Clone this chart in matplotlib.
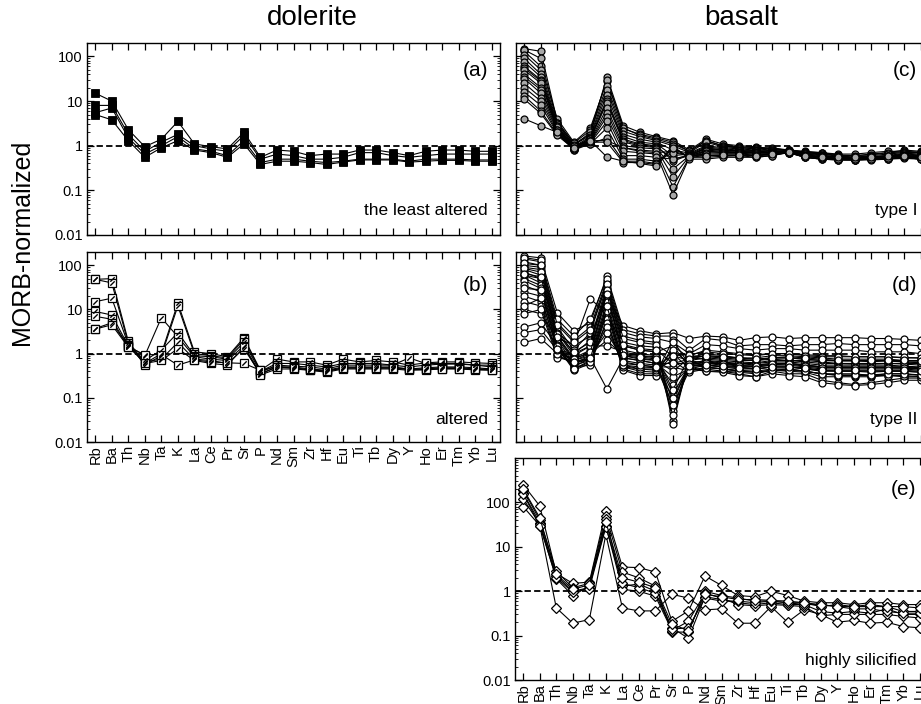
import matplotlib
matplotlib.use("Agg")
import matplotlib.pyplot as plt
from matplotlib.ticker import LogLocator, FixedLocator, NullFormatter, FixedFormatter
import numpy as np

plt.rcParams['font.family'] = ['Liberation Sans', 'DejaVu Sans']

elements = ["Rb", "Ba", "Th", "Nb", "Ta", "K", "La", "Ce", "Pr", "Sr", "P", "Nd", "Sm",
            "Zr", "Hf", "Eu", "Ti", "Tb", "Dy", "Y", "Ho", "Er", "Tm", "Yb", "Lu"]

# (a) dolerite, least altered
dol_least = [
    [15, 10, 2.3, 0.95, 1.4, 3.5, 1.1, 0.95, 0.85, 2.0, 0.55, 0.8, 0.75, 0.6, 0.65, 0.65, 0.8, 0.8, 0.7, 0.6, 0.75, 0.8, 0.8, 0.75, 0.75],
    [8, 8, 1.8, 0.75, 1.2, 1.8, 1.0, 0.85, 0.75, 1.7, 0.5, 0.65, 0.6, 0.5, 0.5, 0.55, 0.7, 0.7, 0.6, 0.55, 0.6, 0.65, 0.65, 0.65, 0.65],
    [5.5, 7, 1.5, 0.65, 1.0, 1.6, 0.85, 0.75, 0.6, 1.3, 0.42, 0.5, 0.5, 0.45, 0.42, 0.45, 0.5, 0.5, 0.5, 0.45, 0.5, 0.5, 0.5, 0.48, 0.48],
    [5, 3.8, 1.3, 0.55, 0.9, 1.3, 0.8, 0.7, 0.55, 1.1, 0.38, 0.45, 0.45, 0.42, 0.38, 0.43, 0.48, 0.48, 0.48, 0.43, 0.45, 0.47, 0.47, 0.45, 0.45],
]

# (b) dolerite, altered
dol_altered = [
    [48, 50, 1.9, 0.6, 1.0, 14, 1.1, 1.0, 0.85, 2.3, 0.42, 0.75, 0.65, 0.65, 0.55, 0.75, 0.65, 0.7, 0.65, 0.55, 0.62, 0.65, 0.65, 0.62, 0.6],
    [48, 40, 1.7, 0.55, 0.9, 12, 1.0, 0.9, 0.8, 2.1, 0.4, 0.6, 0.6, 0.55, 0.5, 0.6, 0.6, 0.6, 0.55, 0.5, 0.55, 0.58, 0.58, 0.55, 0.55],
    [15, 18, 1.6, 0.7, 1.2, 3.0, 0.9, 0.85, 0.75, 1.8, 0.38, 0.55, 0.52, 0.5, 0.45, 0.55, 0.55, 0.55, 0.55, 0.8, 0.6, 0.6, 0.6, 0.55, 0.5],
    [9, 7.5, 1.5, 0.9, 6.5, 2.4, 0.85, 0.75, 0.7, 1.5, 0.35, 0.5, 0.5, 0.45, 0.42, 0.5, 0.5, 0.5, 0.5, 0.45, 0.48, 0.5, 0.5, 0.48, 0.45],
    [7, 6, 1.4, 0.65, 0.75, 1.8, 0.75, 0.7, 0.6, 1.3, 0.35, 0.5, 0.48, 0.42, 0.4, 0.48, 0.48, 0.48, 0.48, 0.45, 0.45, 0.48, 0.48, 0.45, 0.45],
    [3.7, 5, 1.5, 0.6, 0.7, 1.3, 0.7, 0.6, 0.55, 1.4, 0.33, 0.45, 0.45, 0.42, 0.38, 0.45, 0.45, 0.45, 0.45, 0.42, 0.43, 0.45, 0.45, 0.43, 0.42],
    [3.6, 4.5, 1.4, 0.95, 0.95, 0.55, 0.72, 0.65, 0.62, 0.6, 0.42, 0.5, 0.47, 0.44, 0.4, 0.47, 0.47, 0.47, 0.47, 0.44, 0.44, 0.46, 0.46, 0.44, 0.43],
]

# (c) basalt type I
bas_type1 = [
    [150, 130, 3.5, 1.1, 1.8, 35, 2.8, 2.0, 1.6, 1.3, 0.8, 1.4, 1.1, 1.0, 0.95, 0.85, 0.8, 0.7, 0.65, 0.6, 0.6, 0.65, 0.7, 0.8, 0.75],
    [130, 60, 4.0, 1.2, 2.5, 28, 2.4, 1.8, 1.5, 1.2, 0.75, 1.3, 1.0, 0.95, 0.9, 0.9, 0.8, 0.75, 0.7, 0.65, 0.65, 0.7, 0.75, 0.75, 0.72],
    [140, 90, 3.3, 1.15, 2.2, 30, 2.5, 1.7, 1.4, 1.1, 0.75, 1.3, 1.0, 0.9, 0.88, 0.85, 0.8, 0.72, 0.7, 0.62, 0.6, 0.62, 0.7, 0.72, 0.7],
    [110, 50, 3.2, 1.0, 2.0, 22, 2.1, 1.6, 1.3, 1.0, 0.7, 1.2, 0.95, 0.9, 0.85, 0.8, 0.78, 0.72, 0.68, 0.6, 0.55, 0.6, 0.65, 0.7, 0.7],
    [90, 40, 3.0, 1.05, 1.7, 18, 1.8, 1.4, 1.2, 0.8, 0.68, 1.0, 0.9, 0.85, 0.8, 0.78, 0.75, 0.7, 0.65, 0.58, 0.55, 0.58, 0.6, 0.68, 0.65],
    [75, 35, 2.8, 0.95, 1.6, 14, 1.6, 1.2, 1.1, 0.6, 0.65, 0.95, 0.85, 0.8, 0.78, 0.75, 0.75, 0.68, 0.62, 0.55, 0.55, 0.55, 0.6, 0.65, 0.62],
    [60, 30, 2.6, 0.9, 1.5, 11, 1.4, 1.1, 1.0, 0.45, 0.62, 0.9, 0.8, 0.78, 0.75, 0.72, 0.75, 0.65, 0.6, 0.55, 0.52, 0.55, 0.58, 0.62, 0.6],
    [55, 28, 2.7, 0.92, 1.45, 10, 1.3, 1.05, 0.95, 0.5, 0.62, 0.88, 0.8, 0.76, 0.75, 0.72, 0.73, 0.65, 0.6, 0.55, 0.53, 0.55, 0.58, 0.6, 0.58],
    [50, 25, 2.5, 0.85, 1.4, 9, 1.2, 1.0, 0.9, 0.3, 0.6, 0.85, 0.78, 0.75, 0.72, 0.7, 0.72, 0.62, 0.58, 0.52, 0.5, 0.52, 0.55, 0.6, 0.58],
    [40, 20, 2.4, 0.9, 1.3, 7, 1.0, 0.9, 0.85, 0.2, 0.58, 0.8, 0.75, 0.72, 0.7, 0.7, 0.72, 0.6, 0.55, 0.5, 0.5, 0.5, 0.55, 0.58, 0.55],
    [35, 18, 2.6, 1.0, 1.3, 1.3, 0.9, 0.75, 0.7, 0.75, 0.6, 0.75, 0.72, 0.7, 0.7, 0.68, 0.72, 0.6, 0.55, 0.52, 0.52, 0.55, 0.55, 0.6, 0.55],
    [32, 15, 2.3, 0.85, 1.25, 5.5, 0.9, 0.8, 0.75, 0.12, 0.55, 0.75, 0.7, 0.7, 0.68, 0.68, 0.7, 0.6, 0.55, 0.5, 0.5, 0.5, 0.52, 0.55, 0.55],
    [25, 12, 2.2, 0.8, 1.2, 4.5, 0.75, 0.7, 0.65, 0.08, 0.55, 0.7, 0.68, 0.68, 0.65, 0.65, 0.7, 0.58, 0.52, 0.48, 0.48, 0.5, 0.52, 0.55, 0.52],
    [20, 10, 2.0, 0.85, 1.15, 3.5, 0.6, 0.6, 0.55, 0.5, 0.6, 0.65, 0.65, 0.65, 0.62, 0.65, 0.7, 0.55, 0.5, 0.5, 0.48, 0.5, 0.5, 0.55, 0.5],
    [16, 8, 1.9, 0.8, 1.1, 2.5, 0.5, 0.5, 0.45, 0.7, 0.6, 0.6, 0.6, 0.6, 0.6, 0.62, 0.7, 0.55, 0.5, 0.48, 0.48, 0.5, 0.5, 0.55, 0.5],
    [13, 6, 1.8, 0.9, 1.1, 1.5, 0.45, 0.45, 0.4, 0.9, 0.55, 0.55, 0.58, 0.6, 0.55, 0.6, 0.7, 0.55, 0.5, 0.48, 0.48, 0.48, 0.5, 0.52, 0.5],
    [11, 5.3, 1.7, 0.85, 1.2, 1.2, 0.42, 0.42, 0.38, 1.0, 0.5, 0.5, 0.55, 0.55, 0.55, 0.6, 0.72, 0.55, 0.52, 0.5, 0.5, 0.5, 0.52, 0.55, 0.5],
    [4, 2.8, 2.0, 0.9, 1.3, 0.56, 0.45, 0.4, 0.35, 0.9, 0.55, 0.6, 0.62, 0.62, 0.6, 0.65, 0.72, 0.6, 0.55, 0.55, 0.55, 0.55, 0.6, 0.6, 0.55],
]

# (d) basalt type II
bas_type2 = [
    [60, 50, 3.0, 1.5, 2.5, 20, 4.3, 3.3, 2.8, 3.0, 2.2, 2.5, 2.4, 2.0, 2.3, 2.4, 2.2, 2.3, 2.3, 2.3, 2.3, 2.2, 2.2, 2.1, 2.0],
    [163, 147, 8.4, 3.3, 5.0, 57, 3.5, 2.8, 2.5, 2.5, 1.2, 2.2, 2.0, 1.5, 1.6, 1.6, 1.5, 1.6, 1.6, 1.7, 1.6, 1.6, 1.6, 1.6, 1.5],
    [4, 5, 1.5, 0.6, 0.8, 0.16, 0.8, 0.7, 0.6, 0.6, 0.6, 0.7, 0.6, 0.6, 0.55, 0.6, 0.6, 0.55, 0.5, 0.5, 0.5, 0.5, 0.5, 0.5, 0.45],
    [10, 8, 2.2, 1.6, 17.5, 8, 1.5, 1.2, 1.1, 1.5, 0.8, 1.0, 0.9, 0.8, 0.8, 0.9, 0.9, 0.85, 0.8, 0.75, 0.75, 0.75, 0.75, 0.7, 0.7],
    [140, 120, 5.0, 2.0, 4.0, 45, 2.5, 2.0, 1.8, 0.03, 0.9, 1.2, 1.1, 1.0, 0.95, 1.0, 1.0, 0.95, 0.9, 0.9, 0.85, 0.85, 0.85, 0.8, 0.8],
    [120, 100, 4.0, 1.2, 3.0, 40, 1.8, 1.5, 1.4, 0.026, 0.8, 0.9, 0.85, 0.8, 0.75, 0.8, 0.8, 0.75, 0.7, 0.7, 0.7, 0.65, 0.7, 0.65, 0.65],
    [100, 90, 3.5, 1.0, 2.0, 35, 1.5, 1.2, 1.1, 0.05, 0.7, 0.8, 0.75, 0.7, 0.7, 0.75, 0.7, 0.7, 0.65, 0.6, 0.6, 0.6, 0.6, 0.6, 0.6],
    [90, 80, 3.0, 0.9, 1.5, 30, 1.2, 1.0, 0.9, 0.08, 0.6, 0.7, 0.65, 0.6, 0.6, 0.65, 0.65, 0.6, 0.55, 0.55, 0.55, 0.55, 0.55, 0.52, 0.5],
    [80, 60, 2.5, 0.8, 1.2, 25, 1.0, 0.9, 0.8, 0.12, 0.55, 0.65, 0.6, 0.55, 0.55, 0.6, 0.6, 0.55, 0.5, 0.5, 0.5, 0.5, 0.5, 0.5, 0.48],
    [70, 50, 2.2, 0.7, 1.0, 20, 0.9, 0.8, 0.7, 0.2, 0.5, 0.6, 0.55, 0.5, 0.5, 0.55, 0.55, 0.5, 0.45, 0.45, 0.45, 0.45, 0.45, 0.45, 0.42],
    [60, 40, 2.0, 0.6, 0.9, 15, 0.8, 0.7, 0.6, 0.3, 0.45, 0.55, 0.5, 0.45, 0.45, 0.5, 0.5, 0.45, 0.4, 0.4, 0.4, 0.38, 0.4, 0.4, 0.38],
    [50, 35, 1.8, 0.5, 0.8, 12, 0.6, 0.55, 0.5, 0.5, 0.4, 0.5, 0.45, 0.42, 0.4, 0.45, 0.45, 0.4, 0.35, 0.35, 0.35, 0.32, 0.35, 0.35, 0.32],
    [45, 30, 1.6, 0.45, 0.7, 10, 0.5, 0.45, 0.45, 0.7, 0.38, 0.45, 0.4, 0.38, 0.35, 0.42, 0.4, 0.38, 0.3, 0.3, 0.3, 0.3, 0.32, 0.3, 0.3],
    [35, 25, 1.4, 0.42, 0.6, 8, 0.45, 0.35, 0.35, 1.0, 0.45, 0.4, 0.4, 0.35, 0.3, 0.4, 0.35, 0.35, 0.25, 0.22, 0.2, 0.22, 0.25, 0.28, 0.28],
    [25, 20, 1.2, 0.5, 0.55, 6, 0.42, 0.32, 0.32, 1.5, 0.5, 0.4, 0.38, 0.32, 0.3, 0.35, 0.32, 0.3, 0.22, 0.2, 0.19, 0.2, 0.22, 0.25, 0.25],
    [20, 15, 1.0, 0.55, 0.7, 5, 0.5, 0.4, 0.38, 2.0, 0.55, 0.5, 0.45, 0.4, 0.38, 0.42, 0.45, 0.4, 0.35, 0.32, 0.32, 0.32, 0.32, 0.32, 0.3],
    [15, 12, 0.9, 0.6, 0.75, 4, 0.55, 0.45, 0.42, 1.2, 0.6, 0.55, 0.5, 0.5, 0.45, 0.5, 0.5, 0.45, 0.42, 0.4, 0.4, 0.4, 0.4, 0.4, 0.38],
    [8, 10, 0.8, 0.7, 0.9, 3, 0.7, 0.6, 0.55, 0.9, 0.7, 0.6, 0.6, 0.55, 0.5, 0.55, 0.6, 0.55, 0.5, 0.48, 0.48, 0.48, 0.48, 0.48, 0.45],
    [1.8, 2.2, 1.0, 0.8, 1.0, 2.0, 0.9, 0.75, 0.7, 0.4, 0.8, 0.75, 0.7, 0.65, 0.62, 0.7, 0.7, 0.65, 0.6, 0.6, 0.58, 0.58, 0.6, 0.58, 0.55],
    [3, 3.5, 1.2, 1.0, 1.5, 1.5, 1.1, 0.9, 0.85, 0.15, 0.9, 0.85, 0.8, 0.75, 0.7, 0.8, 0.8, 0.75, 0.7, 0.68, 0.68, 0.68, 0.68, 0.65, 0.62],
    [150, 130, 6.0, 2.5, 6.0, 50, 3.0, 2.4, 2.2, 1.8, 1.0, 1.6, 1.5, 1.3, 1.2, 1.3, 1.3, 1.2, 1.2, 1.2, 1.2, 1.1, 1.1, 1.1, 1.0],
    [110, 100, 4.5, 1.8, 3.5, 38, 2.2, 1.8, 1.6, 0.9, 0.95, 1.1, 1.0, 0.95, 0.9, 1.0, 1.0, 0.9, 0.85, 0.85, 0.85, 0.85, 0.85, 0.82, 0.8],
    [85, 70, 2.8, 1.1, 1.8, 28, 1.6, 1.3, 1.2, 0.6, 0.75, 0.9, 0.85, 0.8, 0.75, 0.8, 0.85, 0.8, 0.75, 0.7, 0.7, 0.7, 0.7, 0.7, 0.68],
    [65, 55, 2.4, 0.75, 1.1, 22, 0.95, 0.85, 0.75, 0.04, 0.58, 0.62, 0.58, 0.52, 0.52, 0.58, 0.58, 0.52, 0.48, 0.48, 0.48, 0.48, 0.48, 0.47, 0.45],
    [30, 28, 1.5, 0.45, 0.65, 9, 0.55, 0.5, 0.48, 0.07, 0.42, 0.48, 0.45, 0.4, 0.38, 0.42, 0.42, 0.4, 0.35, 0.33, 0.33, 0.33, 0.35, 0.35, 0.33],
    [12, 18, 1.3, 0.65, 0.8, 12, 0.65, 0.55, 0.5, 0.1, 0.52, 0.55, 0.52, 0.48, 0.45, 0.5, 0.5, 0.48, 0.42, 0.42, 0.42, 0.42, 0.42, 0.42, 0.4],
]

# (e) basalt highly silicified
bas_silic = [
    [80, 30, 0.42, 0.19, 0.23, 19, 0.42, 0.36, 0.36, 0.85, 0.7, 0.38, 0.4, 0.19, 0.19, 0.45, 0.2, 0.38, 0.3, 0.2, 0.22, 0.19, 0.2, 0.16, 0.15],
    [250, 83, 2.5, 1.5, 1.6, 64, 3.5, 3.4, 2.7, 0.21, 0.36, 2.2, 1.35, 0.8, 0.75, 1.0, 0.8, 0.6, 0.55, 0.55, 0.5, 0.55, 0.55, 0.5, 0.5],
    [190, 40, 2.8, 1.2, 1.5, 50, 2.7, 2.0, 1.3, 0.12, 0.12, 1.0, 0.8, 0.7, 0.6, 0.6, 0.55, 0.55, 0.45, 0.5, 0.45, 0.45, 0.45, 0.35, 0.35],
    [160, 35, 2.2, 1.0, 1.2, 42, 1.3, 1.45, 1.0, 0.15, 0.087, 0.75, 0.65, 0.55, 0.5, 0.55, 0.5, 0.5, 0.35, 0.32, 0.35, 0.32, 0.4, 0.3, 0.3],
    [120, 32, 1.9, 0.8, 1.3, 30, 1.1, 1.0, 0.77, 0.13, 0.21, 0.9, 0.7, 0.5, 0.47, 0.5, 0.48, 0.45, 0.28, 0.3, 0.3, 0.3, 0.3, 0.27, 0.25],
    [155, 30, 2.0, 0.95, 1.15, 28, 1.5, 1.2, 0.9, 0.14, 0.15, 0.7, 0.6, 0.6, 0.55, 0.6, 0.55, 0.5, 0.5, 0.45, 0.4, 0.4, 0.35, 0.32, 0.32],
    [200, 45, 2.4, 1.1, 1.4, 36, 2.0, 1.6, 1.2, 0.18, 0.13, 0.85, 0.75, 0.65, 0.65, 0.62, 0.6, 0.55, 0.5, 0.45, 0.45, 0.5, 0.45, 0.45, 0.42],
]

W, H = 921, 704
fig = plt.figure(figsize=(W / 100, H / 100), dpi=100)


def box(left, top, right, bottom):
    return [left / W, 1 - bottom / H, (right - left) / W, (bottom - top) / H]


ax_a = fig.add_axes(box(87, 43, 500, 235))
ax_b = fig.add_axes(box(87, 252, 500, 442))
ax_c = fig.add_axes(box(516, 43, 929, 235))
ax_d = fig.add_axes(box(516, 252, 929, 442))
ax_e = fig.add_axes(box(515, 458, 928, 680))

x = np.arange(len(elements))
FS_TICK = 10.5


def style_axes(ax, ytop, show_xlabels, show_ylabels):
    ax.set_yscale('log')
    ax.set_xlim(-0.5, len(elements) - 0.5)
    ax.set_ylim(0.01, ytop)
    ax.axhline(1, color='k', lw=1.3, ls=(0, (3.5, 1.8)), zorder=1)
    ax.xaxis.set_major_locator(FixedLocator(x))
    if show_xlabels:
        ax.set_xticklabels(elements, rotation=90, fontsize=FS_TICK)
    else:
        ax.set_xticklabels([])
    majors = [0.01, 0.1, 1, 10, 100]
    ax.yaxis.set_major_locator(FixedLocator(majors))
    if show_ylabels:
        ax.yaxis.set_major_formatter(FixedFormatter(["0.01", "0.1", "1", "10", "100"]))
    else:
        ax.yaxis.set_major_formatter(NullFormatter())
    ax.yaxis.set_minor_locator(LogLocator(base=10, subs=np.arange(2, 10), numticks=20))
    ax.yaxis.set_minor_formatter(NullFormatter())
    ax.tick_params(axis='both', which='major', direction='in', length=5, width=0.9,
                   top=True, right=True, labelsize=FS_TICK, pad=3)
    ax.tick_params(axis='y', which='minor', direction='in', length=2.5, width=0.6,
                   left=True, right=True)
    ax.tick_params(axis='x', which='major', pad=2)
    for s in ax.spines.values():
        s.set_linewidth(1.0)


def draw(ax, series, **mk):
    for vals in series:
        ax.plot(x, vals, '-', color='k', lw=0.8, zorder=2, **mk)


style_axes(ax_a, 200, False, True)
style_axes(ax_b, 200, True, True)
style_axes(ax_c, 200, False, False)
style_axes(ax_d, 200, False, False)
style_axes(ax_e, 1000, True, True)

draw(ax_a, dol_least, marker='s', ms=6, mfc='k', mec='k', mew=0.6)
draw(ax_b, dol_altered, marker='s', ms=6, mfc='white', mec='k', mew=0.9)
for vals in dol_altered:
    ax_b.plot(x, vals, ls='none', marker=(2, 2, -45), ms=4, mec='k', mew=0.7, zorder=3)
draw(ax_c, bas_type1, marker='o', ms=5, mfc='#a8a8a8', mec='k', mew=0.9)
draw(ax_d, bas_type2, marker='o', ms=5, mfc='white', mec='k', mew=0.9)
draw(ax_e, bas_silic, marker='D', ms=5.5, mfc='white', mec='k', mew=0.9)

FS_LETTER = 15
FS_NOTE = 12.5
panel_text = [
    (ax_a, "(a)", 0.858, "the least altered", 0.13),
    (ax_b, "(b)", 0.826, "altered", 0.116),
    (ax_c, "(c)", 0.858, "type I", 0.13),
    (ax_d, "(d)", 0.826, "type II", 0.116),
    (ax_e, "(e)", 0.856, "highly silicified", 0.09),
]
for ax, letter, ly, note, ny in panel_text:
    ax.text(0.971, ly, letter, transform=ax.transAxes, ha='right', va='center', fontsize=FS_LETTER)
    ax.text(0.971, ny, note, transform=ax.transAxes, ha='right', va='center', fontsize=FS_NOTE)

fig.text(312 / W, 1 - 18 / H, "dolerite", ha='center', va='center', fontsize=20)
fig.text(741 / W, 1 - 18 / H, "basalt", ha='center', va='center', fontsize=20)
fig.text(22 / W, 1 - 242 / H, "MORB-normalized", rotation=90, ha='center', va='center', fontsize=18)

fig.savefig("out.png", dpi=100)
